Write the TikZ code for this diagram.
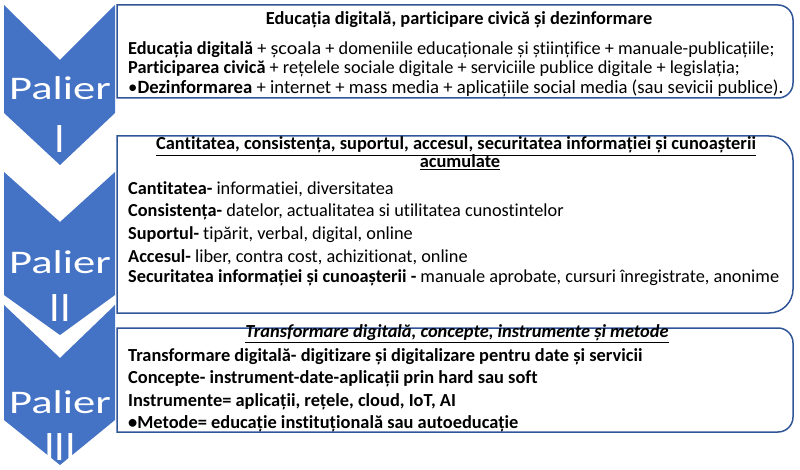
\documentclass[tikz,border=0pt]{standalone}
\usepackage{fontspec}
\setmainfont[Ligatures={NoCommon}]{Carlito}
\definecolor{chevblue}{RGB}{68,114,196}
\definecolor{boxblue}{RGB}{47,85,151}
\begin{document}
\begin{tikzpicture}[x=1pt,y=-1pt]
	\tikzstyle{chevron} = [fill=chevblue, draw=none];
	\tikzstyle{panel} = [draw=boxblue, line width=1.5pt];
	\tikzstyle{tier} = [text=white, inner sep=0pt, anchor=base, text depth=0pt, font={\fontsize{33}{33}\selectfont}];
	\tikzstyle{numeral} = [tier, font={\fontsize{42}{42}\selectfont}];
	\tikzstyle{row} = [anchor=base west, inner sep=0pt, font={\fontsize{18.3}{18.3}\selectfont}];
	\tikzstyle{boldrow} = [row, font={\fontsize{18.4}{18.4}\selectfont\bfseries}];
	\tikzstyle{head} = [anchor=base, inner sep=0pt, font={\fontsize{18.4}{18.4}\selectfont\bfseries}];

	\useasboundingbox (0,0) rectangle (800,470);

	% chevrons: top / notch / side end / tip, label and baselines
	\foreach \t/\n/\s/\p/\w/\ya/\yb in {5/60/113/165/I/100/153, 172/222/295/335/II/273/321, 305/358/420/465/III/413/460} {
		\fill[chevron] (4,\t) -- (60,\n) -- (115,\t) -- (115,\s) -- (60,\p) -- (4,\s) -- cycle;
		\node[tier] (palier\w) at (60,\ya) {\scalebox{1.35}[1]{Palier}};
		\node[numeral] (num\w) at (60,\yb) {\w};
	}

	% panels, rounded on the right side only
	\draw[panel] (117,5) -- (700,5) [rounded corners=15pt] -- (793,5) -- (793,98) -- (700,98) [sharp corners] -- (117,98) -- cycle;
	\draw[panel] (117,136) -- (700,136) [rounded corners=24pt] -- (793,136) -- (793,313) -- (700,313) [sharp corners] -- (117,313) -- cycle;
	\draw[panel] (117,328) -- (700,328) [rounded corners=15pt] -- (793,328) -- (793,432) -- (700,432) [sharp corners] -- (117,432) -- cycle;

	% panel I
	\node[head] (h1) at (459,25) {Educația digitală, participare civică și dezinformare};
	\node[row] (r11) at (128,55) {\textbf{Educația digitală} + \scalebox{1.1}[1]{școala} + domeniile educaționale și științifice + manuale-publicațiile;};
	\node[row] (r12) at (128,74) {\textbf{Participarea civică} + rețelele sociale digitale + serviciile publice digitale + legislația;};
	\node[row, font={\fontsize{18.7}{18.7}\selectfont}] (r13) at (128,94) {•\textbf{Dezinformarea} + internet + mass media + aplicațiile social media (sau sevicii publice).};

	% panel II
	\node[head] (h2) at (456,150) {\underline{Cantitatea, consistența, suportul, accesul, securitatea informației și cunoașterii}};
	\node[head] (h2b) at (460,168) {\underline{acumulate}};
	\node[row] (r21) at (128,195) {\textbf{Cantitatea-} informatiei, diversitatea};
	\node[row] (r22) at (128,217) {\textbf{Consistența-} datelor, actualitatea si utilitatea cunostintelor};
	\node[row] (r23) at (128,240) {\textbf{Suportul-} tipărit, verbal, digital, online};
	\node[row] (r24) at (128,262) {\textbf{Accesul-} liber, contra cost, achizitionat, online};
	\node[row] (r25) at (128,283) {\textbf{Securitatea informației și cunoașterii -} manuale aprobate, cursuri înregistrate, anonime};

	% panel III
	\node[head] (h3) at (457,337) {\underline{\itshape Transformare digitală, concepte, instrumente și metode}};
	\node[boldrow] (r31) at (128,361) {Transformare digitală- digitizare și digitalizare pentru date și servicii};
	\node[boldrow] (r32) at (128,383) {Concepte- instrument-date-aplicații prin hard sau soft};
	\node[boldrow] (r33) at (128,406) {Instrumente= aplicații, rețele, cloud, IoT, AI};
	\node[boldrow] (r34) at (128,428) {•Metode= educație instituțională sau autoeducație};
\end{tikzpicture}
\end{document}
